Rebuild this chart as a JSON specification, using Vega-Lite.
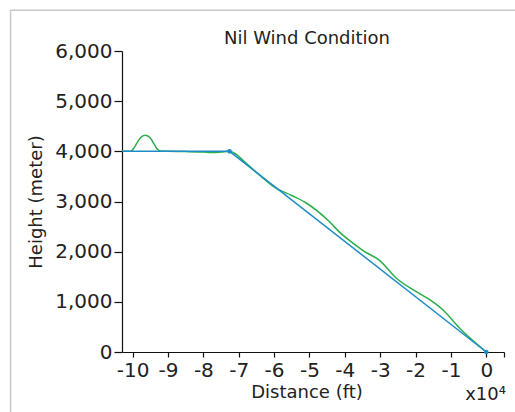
{
  "$schema": "https://vega.github.io/schema/vega-lite/v6.json",
  "width": 382,
  "height": 301,
  "autosize": {"type": "none"},
  "padding": {"left": 122, "top": 51, "right": 11, "bottom": 60},
  "background": "white",
  "title": {"text": "Nil Wind Condition", "font": "DejaVu Sans", "fontSize": 18, "fontWeight": "normal", "color": "#222222", "offset": -38, "dx": -6},
  "config": {
    "view": {"stroke": null},
    "axis": {"grid": false, "domainColor": "#111111", "tickColor": "#111111", "labelColor": "#222222", "titleColor": "#222222", "labelFont": "DejaVu Sans", "titleFont": "DejaVu Sans", "labelFontSize": 20, "titleFontSize": 18, "titleFontWeight": "normal", "domainWidth": 1.2, "tickWidth": 1.2, "labelOverlap": false, "labelBound": false, "labelFlush": false}
  },
  "datasets": {
    "lines": [
      {"series": "green", "x": -10.3, "y": 4000},
      {"series": "green", "x": -10.05, "y": 4000},
      {"series": "green", "x": -9.95, "y": 4080},
      {"series": "green", "x": -9.85, "y": 4200},
      {"series": "green", "x": -9.75, "y": 4290},
      {"series": "green", "x": -9.64, "y": 4320},
      {"series": "green", "x": -9.52, "y": 4280},
      {"series": "green", "x": -9.42, "y": 4180},
      {"series": "green", "x": -9.32, "y": 4060},
      {"series": "green", "x": -9.22, "y": 4005},
      {"series": "green", "x": -9.0, "y": 4000},
      {"series": "green", "x": -8.5, "y": 3995},
      {"series": "green", "x": -8.0, "y": 3985},
      {"series": "green", "x": -7.75, "y": 3975},
      {"series": "green", "x": -7.5, "y": 3985},
      {"series": "green", "x": -7.26, "y": 4000},
      {"series": "green", "x": -7.05, "y": 3930},
      {"series": "green", "x": -6.88, "y": 3820},
      {"series": "green", "x": -6.45, "y": 3550},
      {"series": "green", "x": -5.99, "y": 3285},
      {"series": "green", "x": -5.5, "y": 3120},
      {"series": "green", "x": -5.09, "y": 2970},
      {"series": "green", "x": -4.44, "y": 2600},
      {"series": "green", "x": -4.15, "y": 2390},
      {"series": "green", "x": -3.78, "y": 2175},
      {"series": "green", "x": -3.45, "y": 2005},
      {"series": "green", "x": -3.02, "y": 1827},
      {"series": "green", "x": -2.55, "y": 1476},
      {"series": "green", "x": -2.03, "y": 1222},
      {"series": "green", "x": -1.56, "y": 1023},
      {"series": "green", "x": -1.23, "y": 843},
      {"series": "green", "x": -0.76, "y": 479},
      {"series": "green", "x": 0, "y": 0},
      {"series": "blue", "x": -10.3, "y": 4000},
      {"series": "blue", "x": -7.26, "y": 4000},
      {"series": "blue", "x": 0, "y": 0}
    ],
    "points": [
      {"x": -7.26, "y": 4000},
      {"x": 0, "y": 0}
    ]
  },
  "layer": [
    {
      "data": {"values": [{}]},
      "mark": {"type": "rect", "fill": "transparent", "stroke": "#c8c8c8", "strokeWidth": 1.5, "clip": false},
      "encoding": {
        "x": {"datum": -13.45, "type": "quantitative", "scale": {"domain": [-10.3, 0.5], "nice": false, "zero": false},
          "axis": {"title": "Distance (ft)", "values": [-10, -9, -8, -7, -6, -5, -4, -3, -2, -1, 0, 0.5], "tickCount": 30, "labelExpr": "datum.value > 0.1 ? '' : toString(datum.value)", "labelOverlap": false, "tickSize": 5, "labelPadding": 3, "titleX": 184.5, "titleY": 40, "titleBaseline": "middle", "titleAlign": "center"}},
        "x2": {"datum": 3},
        "y": {"datum": 6811, "type": "quantitative", "scale": {"domain": [0, 6000], "nice": false},
          "axis": {"title": "Height (meter)", "values": [0, 1000, 2000, 3000, 4000, 5000, 6000], "tickCount": 30, "format": ",d", "labelOverlap": false, "tickSize": 8, "labelPadding": 2, "titleX": -86, "titleY": 150.5, "titleAngle": -90, "titleBaseline": "middle", "titleAlign": "center"}},
        "y2": {"datum": -3000}
      }
    },
    {
      "data": {"name": "lines"},
      "transform": [{"filter": "datum.series === 'green'"}],
      "mark": {"type": "line", "color": "#2aae4a", "strokeWidth": 1.5, "interpolate": "monotone"},
      "encoding": {
        "x": {"field": "x", "type": "quantitative", "title": "Distance (ft)"},
        "y": {"field": "y", "type": "quantitative", "title": "Height (meter)"},
        "order": {"field": "x", "type": "quantitative"}
      }
    },
    {
      "data": {"name": "lines"},
      "transform": [{"filter": "datum.series === 'blue'"}],
      "mark": {"type": "line", "color": "#1e8cc8", "strokeWidth": 1.5},
      "encoding": {
        "x": {"field": "x", "type": "quantitative", "title": "Distance (ft)"},
        "y": {"field": "y", "type": "quantitative", "title": "Height (meter)"},
        "order": {"field": "x", "type": "quantitative"}
      }
    },
    {
      "data": {"name": "points"},
      "mark": {"type": "circle", "color": "#1e8cc8", "size": 22, "opacity": 1},
      "encoding": {
        "x": {"field": "x", "type": "quantitative", "title": "Distance (ft)"},
        "y": {"field": "y", "type": "quantitative", "title": "Height (meter)"}
      }
    },
    {
      "data": {"values": [{}]},
      "mark": {"type": "text", "text": "x10⁴", "font": "DejaVu Sans", "fontSize": 18, "align": "right", "baseline": "alphabetic", "color": "#222222", "dx": 2, "clip": false},
      "encoding": {
        "x": {"datum": 0.5, "type": "quantitative", "title": "Distance (ft)"},
        "y": {"datum": -965, "type": "quantitative", "title": "Height (meter)"}
      }
    }
  ]
}
